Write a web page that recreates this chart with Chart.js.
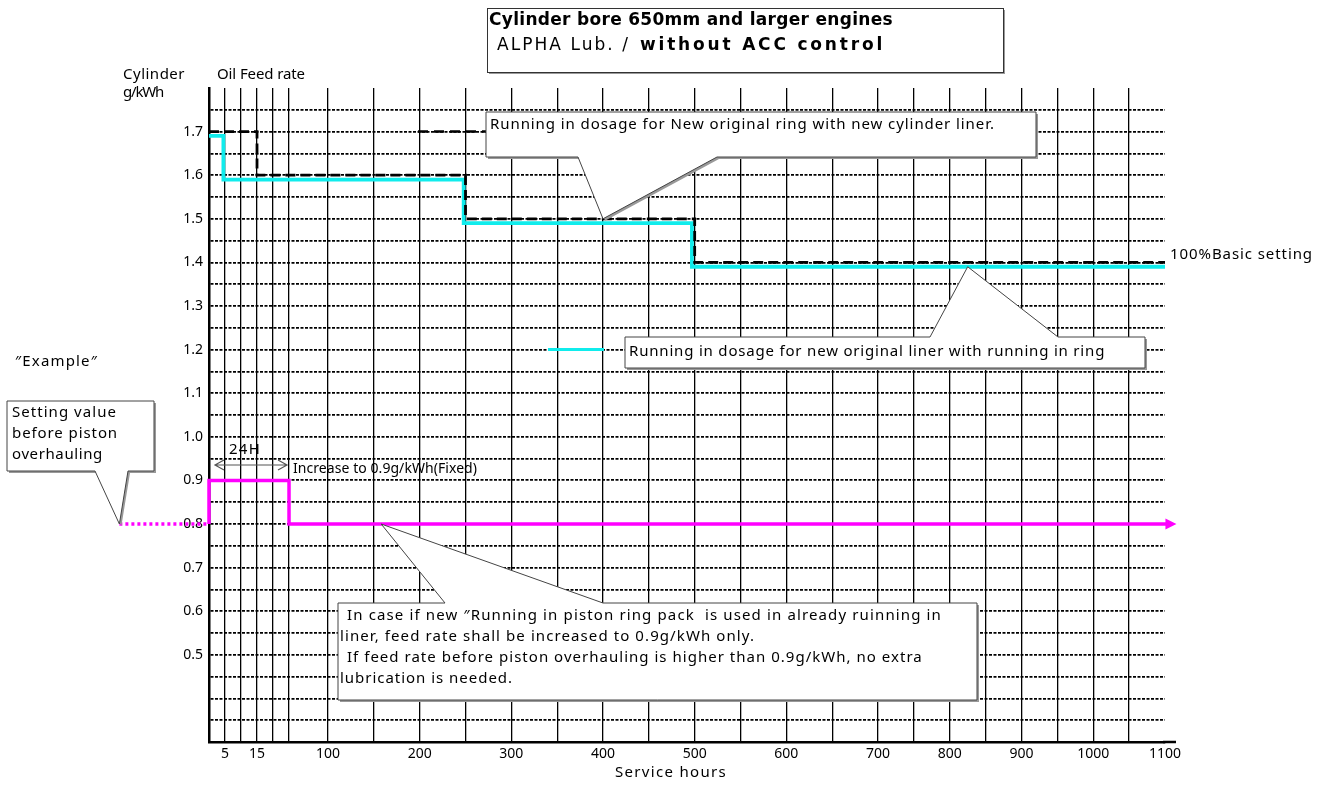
<!DOCTYPE html>
<html>
<head>
<meta charset="utf-8">
<script src="https://cdn.jsdelivr.net/npm/chart.js@4.4.1/dist/chart.umd.min.js"></script>
<style>
  html, body { margin: 0; padding: 0; background: #fff; }
  #wrap { width: 1331px; height: 785px; position: relative; }
</style>
</head>
<body>
<div id="wrap"><canvas id="myChart" width="1331" height="785"></canvas></div>
<script>
// ---- data ----
const hourTicks = [0, 5, 10, 15, 20, 25, 100, 150, 200, 250, 300, 350, 400, 450, 500,
    550, 600, 650, 700, 750, 800, 850, 900, 950, 1000, 1050, 1100];
const hourLabels = [5, 15, 100, 200, 300, 400, 500, 600, 700, 800, 900, 1000, 1100];
const rateLabels = [0.5, 0.6, 0.7, 0.8, 0.9, 1.0, 1.1, 1.2, 1.3, 1.4, 1.5, 1.6, 1.7];

// new original ring with new cylinder liner (black dashed)
const newRingHours = [0, 15, 250, 500, 1100];
const newRingRate = [1.7, 1.6, 1.5, 1.4, 1.4];

// new original liner with running in ring (cyan)
const runInHours = [0, 4.5, 248, 497, 1100];
const runInRate = [1.69, 1.59, 1.49, 1.39, 1.39];

// example: running in ring pack in already running liner (magenta)
const pistonHours = [0, 0, 25, 1102];
const pistonRate = [0.8, 0.9, 0.8, 0.8];
const priorHours = [-28, 0];
const priorRate = [0.8, 0.8];

// axis breaks: hours -> fraction of axis length
const hourBreaks = [0, 25, 100, 700, 1100];
const hourBreakFrac = [0, 0.0837, 0.1245, 0.6998, 1];

const FONT = "'Noto Sans', 'DejaVu Sans', sans-serif";
const TITLE_FONT = "'DejaVu Sans', 'Noto Sans', sans-serif";

function toPoints(xs, ys) {
    return xs.map((x, i) => ({ x: x, y: ys[i] }));
}

// piecewise linear x scale (the drawing squeezes the first 100 hours)
class BrokenHourScale extends Chart.LinearScale {
    _frac(v) {
        const b = hourBreaks, f = hourBreakFrac;
        let i = 0;
        if (v > b[b.length - 1]) i = b.length - 2;
        else while (i < b.length - 2 && v > b[i + 1]) i++;
        return f[i] + (v - b[i]) / (b[i + 1] - b[i]) * (f[i + 1] - f[i]);
    }
    getPixelForValue(value) {
        return this.getPixelForDecimal(this._frac(value));
    }
    getValueForPixel(pixel) {
        const d = this.getDecimalForPixel(pixel);
        const b = hourBreaks, f = hourBreakFrac;
        let i = 0;
        while (i < f.length - 2 && d > f[i + 1]) i++;
        return b[i] + (d - f[i]) / (f[i + 1] - f[i]) * (b[i + 1] - b[i]);
    }
}
BrokenHourScale.id = 'brokenHours';
BrokenHourScale.defaults = {};
Chart.register(BrokenHourScale);

// callout box with pointer
function callout(ctx, box, base1, base2, tip, side) {
    const { l, t, r, b } = box;
    ctx.beginPath();
    if (side === 'bottom') {
        ctx.moveTo(l, t); ctx.lineTo(r, t); ctx.lineTo(r, b);
        ctx.lineTo(base2, b); ctx.lineTo(tip.x, tip.y); ctx.lineTo(base1, b);
        ctx.lineTo(l, b);
    } else {
        ctx.moveTo(l, t); ctx.lineTo(base1, t); ctx.lineTo(tip.x, tip.y);
        ctx.lineTo(base2, t); ctx.lineTo(r, t); ctx.lineTo(r, b); ctx.lineTo(l, b);
    }
    ctx.closePath();
    ctx.save();
    ctx.shadowColor = '#999';
    ctx.shadowOffsetX = 2;
    ctx.shadowOffsetY = 2;
    ctx.fillStyle = '#fff';
    ctx.fill();
    ctx.restore();
    ctx.lineWidth = 1;
    ctx.strokeStyle = '#444';
    ctx.stroke();
}

// text, optionally spread to the width it has in the drawing
function text(ctx, str, x, y, size, weight, align, width, family) {
    ctx.save();
    ctx.font = (weight || 'normal') + ' ' + size + 'px ' + (family || FONT);
    ctx.textAlign = align || 'left';
    ctx.textBaseline = 'middle';
    ctx.fillStyle = '#000';
    if (width && 'letterSpacing' in ctx) {
        ctx.letterSpacing = '0px';
        const m = ctx.measureText(str).width;
        ctx.letterSpacing = ((width - m) / str.length).toFixed(2) + 'px';
    }
    ctx.fillText(str, x, y);
    ctx.restore();
}

const annotations = {
    id: 'annotations',
    afterDraw(chart) {
        const ctx = chart.ctx;
        const xs = chart.scales.x, ys = chart.scales.y;
        const area = chart.chartArea;
        ctx.save();

        // x axis runs a bit past the last grid line
        ctx.strokeStyle = '#000';
        ctx.lineWidth = 2.5;
        ctx.beginPath();
        ctx.moveTo(area.right - 2, area.bottom);
        ctx.lineTo(area.right + 11, area.bottom);
        ctx.stroke();

        // arrow head on the magenta line
        const pm = chart.getDatasetMeta(2).data;
        const end = pm[pm.length - 1];
        ctx.fillStyle = '#ff00ff';
        ctx.beginPath();
        ctx.moveTo(end.x - 1, end.y - 5.5);
        ctx.lineTo(end.x + 10, end.y);
        ctx.lineTo(end.x - 1, end.y + 5.5);
        ctx.closePath();
        ctx.fill();

        // title box
        ctx.save();
        ctx.shadowColor = '#999';
        ctx.shadowOffsetX = 2;
        ctx.shadowOffsetY = 2;
        ctx.fillStyle = '#fff';
        ctx.fillRect(487, 8, 516, 64);
        ctx.restore();
        ctx.strokeStyle = '#333';
        ctx.lineWidth = 1;
        ctx.strokeRect(487.5, 8.5, 516, 64);
        text(ctx, 'Cylinder bore 650mm and larger engines', 489, 21, 17, 'bold', 'left', 404, TITLE_FONT);
        text(ctx, 'ALPHA Lub. /', 497, 46, 17, 'normal', 'left', 133, TITLE_FONT);
        text(ctx, 'without ACC control', 640, 46, 17, 'bold', 'left', 245, TITLE_FONT);

        // axis titles
        text(ctx, 'Cylinder', 123, 75, 15, 'normal', 'left', 62);
        text(ctx, 'Oil Feed rate', 217, 75, 15, 'normal', 'left', 88);
        text(ctx, 'g/kWh', 123, 93, 15, 'normal', 'left', 40);
        text(ctx, 'Service hours', 615, 773, 15, 'normal', 'left', 112);

        // callout: new ring with new liner
        ctx.strokeStyle = '#000';
        ctx.lineWidth = 2.5;
        ctx.setLineDash([10, 6]);
        ctx.beginPath();
        ctx.moveTo(418, ys.getPixelForValue(1.7));
        ctx.lineTo(486, ys.getPixelForValue(1.7));
        ctx.stroke();
        ctx.setLineDash([]);
        callout(ctx, { l: 486, t: 112, r: 1036, b: 157 }, 578, 717,
            { x: xs.getPixelForValue(400), y: ys.getPixelForValue(1.5) }, 'bottom');
        text(ctx, 'Running in dosage for New original ring with new cylinder liner.', 490, 125, 15, 'normal', 'left', 505);

        // callout: new liner with running in ring
        ctx.strokeStyle = '#10ecec';
        ctx.lineWidth = 3;
        ctx.beginPath();
        ctx.moveTo(548, ys.getPixelForValue(1.2));
        ctx.lineTo(604, ys.getPixelForValue(1.2));
        ctx.stroke();
        callout(ctx, { l: 625, t: 337, r: 1145, b: 368 }, 930, 1058,
            { x: xs.getPixelForValue(825), y: ys.getPixelForValue(1.39) }, 'top');
        text(ctx, 'Running in dosage for new original liner with running in ring', 629, 352, 15, 'normal', 'left', 476);

        text(ctx, '100%Basic setting', 1170, 255, 15, 'normal', 'left', 143);

        // example side notes
        text(ctx, '\u2033Example\u2033', 15, 362, 15, 'normal', 'left', 83);
        callout(ctx, { l: 7, t: 401, r: 154, b: 471 }, 95, 128,
            { x: xs.getPixelForValue(priorHours[0]), y: ys.getPixelForValue(priorRate[0]) }, 'bottom');
        text(ctx, 'Setting value', 12, 413, 15, 'normal', 'left', 105);
        text(ctx, 'before piston', 12, 434, 15, 'normal', 'left', 106);
        text(ctx, 'overhauling', 12, 455, 15, 'normal', 'left', 91);

        // 24H arrow
        const ax1 = xs.getPixelForValue(0) + 6, ax2 = xs.getPixelForValue(25) - 2, ay = 465;
        ctx.strokeStyle = '#555';
        ctx.lineWidth = 1.2;
        ctx.beginPath();
        ctx.moveTo(ax1, ay); ctx.lineTo(ax2, ay);
        ctx.moveTo(ax1 + 9, ay - 5); ctx.lineTo(ax1, ay); ctx.lineTo(ax1 + 9, ay + 5);
        ctx.moveTo(ax2 - 9, ay - 5); ctx.lineTo(ax2, ay); ctx.lineTo(ax2 - 9, ay + 5);
        ctx.stroke();
        text(ctx, '24H', 229, 450, 15, 'normal', 'left', 32);
        text(ctx, 'Increase to 0.9g/kWh(Fixed)', 293, 469, 14, 'normal', 'left', 184);

        // callout: running in piston ring pack
        callout(ctx, { l: 338, t: 603, r: 977, b: 700 }, 445, 603,
            { x: xs.getPixelForValue(158), y: ys.getPixelForValue(0.8) }, 'top');
        text(ctx, 'In case if new \u2033Running in piston ring pack  is used in already ruinning in', 347, 616, 15, 'normal', 'left', 595);
        text(ctx, 'liner, feed rate shall be increased to 0.9g/kWh only.', 340, 637, 15, 'normal', 'left', 415);
        text(ctx, 'If feed rate before piston overhauling is higher than 0.9g/kWh, no extra', 347, 658, 15, 'normal', 'left', 576);
        text(ctx, 'lubrication is needed.', 340, 679, 15, 'normal', 'left', 173);

        ctx.restore();
    }
};

const ctx = document.getElementById('myChart').getContext('2d');

new Chart(ctx, {
    type: 'line',
    data: {
        datasets: [
            {
                label: 'New original ring with new cylinder liner',
                data: toPoints(newRingHours, newRingRate),
                borderColor: '#000',
                borderWidth: 2.8,
                borderDash: [10, 5],
                stepped: true,
                pointRadius: 0
            },
            {
                label: 'New original liner with running in ring',
                data: toPoints(runInHours, runInRate),
                borderColor: '#10ecec',
                borderWidth: 3.8,
                stepped: true,
                pointRadius: 0
            },
            {
                label: 'Running in piston ring pack',
                data: toPoints(pistonHours, pistonRate),
                borderColor: '#ff00ff',
                borderWidth: 3.5,
                stepped: true,
                pointRadius: 0,
                clip: false
            },
            {
                label: 'Setting before piston overhauling',
                data: toPoints(priorHours, priorRate),
                borderColor: '#ff00ff',
                borderWidth: 3.5,
                borderDash: [3, 3],
                pointRadius: 0,
                clip: false
            }
        ]
    },
    options: {
        responsive: false,
        animation: false,
        devicePixelRatio: 1,
        layout: { padding: { left: 169, right: 166, top: 88, bottom: 13 } },
        plugins: {
            legend: { display: false },
            title: { display: false },
            tooltip: { enabled: false }
        },
        scales: {
            x: {
                type: 'brokenHours',
                min: 0,
                max: 1100,
                afterBuildTicks: scale => {
                    scale.ticks = hourTicks.map(v => ({ value: v }));
                },
                afterFit: scale => { scale.height = 30; },
                ticks: {
                    autoSkip: false,
                    maxRotation: 0,
                    padding: 4,
                    color: '#000',
                    font: { family: FONT, size: 14 },
                    callback: value => hourLabels.includes(value) ? String(value) : ''
                },
                grid: {
                    drawTicks: false,
                    lineWidth: 1.3,
                    color: c => (c.tick && (c.tick.value === 0 || c.tick.value === 1100)) ? 'rgba(0,0,0,0)' : '#000'
                },
                border: { display: true, color: '#000', width: 2.5 }
            },
            y: {
                min: 0.3,
                max: 1.8,
                afterFit: scale => { scale.width = 40; },
                ticks: {
                    stepSize: 0.05,
                    autoSkip: false,
                    padding: 6,
                    color: '#000',
                    font: { family: FONT, size: 14 },
                    callback: value => rateLabels.some(r => Math.abs(r - value) < 1e-6) ? value.toFixed(1) : ''
                },
                grid: {
                    drawTicks: false,
                    lineWidth: 1.8,
                    color: c => (c.tick && (c.tick.value > 1.79 || c.tick.value < 0.31)) ? 'rgba(0,0,0,0)' : '#000'
                },
                border: { display: true, color: '#000', width: 2.5, dash: [3, 1.5] }
            }
        }
    },
    plugins: [annotations]
});
</script>
</body>
</html>
